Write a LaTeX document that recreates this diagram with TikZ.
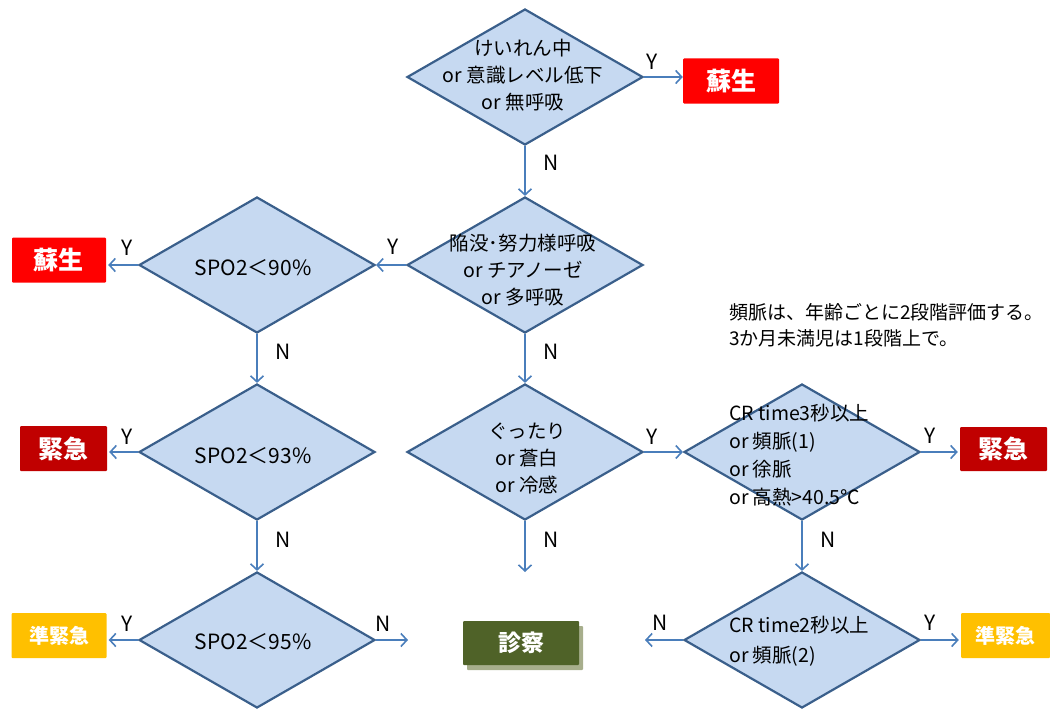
\documentclass[tikz,border=0pt]{standalone}
\usepackage{fontspec}
\newfontfamily\jp{Noto Sans CJK JP}
\usetikzlibrary{shapes.geometric,arrows.meta,shadows}
\definecolor{diafill}{HTML}{C6D9F1}
\definecolor{diabd}{HTML}{3A5F8B}
\definecolor{arrowc}{HTML}{4A7EBB}
\definecolor{redbox}{HTML}{FF0000}
\definecolor{darkred}{HTML}{C00000}
\definecolor{amber}{HTML}{FFC000}
\definecolor{olive}{HTML}{4F6228}
\definecolor{shadowc}{HTML}{A7AE8C}
\tikzset{
  dia/.style={shape=diamond, draw=diabd, fill=diafill, line width=2.2pt,
    minimum width=236pt, minimum height=136pt, inner sep=0pt},
  dtext/.style={font=\jp\fontsize{19.5}{27}\selectfont, inner sep=0pt},
  stext/.style={font=\jp\fontsize{21}{21}\selectfont, inner sep=0pt},
  ltext/.style={font=\jp\fontsize{19.5}{28}\selectfont, inner sep=0pt, align=left, anchor=west},
  arr/.style={draw=arrowc, line width=1.6pt,
    -{Straight Barb[length=6pt,width=13pt,line width=1.6pt]}},
  yn/.style={font=\jp\fontsize{21}{21}\selectfont, inner sep=0pt},
  result/.style={text=white, font=\jp\bfseries\fontsize{#1}{#1}\selectfont,
    inner sep=0pt, rounded corners=1pt},
}
\begin{document}
\begin{tikzpicture}[x=1pt,y=-1pt]
\useasboundingbox (0,0) rectangle (1050,709);

% diamonds
\node[dia] (d1) at (525,77) {};
\node[dia] (d2) at (525,265) {};
\node[dia] (d3) at (257,265) {};
\node[dia] (d4) at (257,452) {};
\node[dia] (d5) at (257,640) {};
\node[dia] (d6) at (525,452) {};
\node[dia] (d7) at (802,452) {};
\node[dia] (d8) at (802,640) {};

% diamond texts
\node[dtext, align=center] (t1) at (523,75) {けいれん中\\or 意識レベル低下\\or 無呼吸};
\node[dtext, align=center] (t2) at (523,270) {陥没･努力様呼吸\\or チアノーゼ\\or 多呼吸};
\node[stext] (t3) at (253,268) {SPO2＜90\%};
\node[stext] (t4) at (253,456) {SPO2＜93\%};
\node[stext] (t5) at (253,642) {SPO2＜95\%};
\node[dtext, align=center] (t6) at (527,458) {ぐったり\\or 蒼白\\or 冷感};
\node[ltext] (t7) at (729,455) {CR time3秒以上\\or 頻脈(1)\\or 徐脈\\or 高熱>40.5℃};
\node[ltext, font=\jp\fontsize{19.5}{30}\selectfont] (t8) at (729,641) {CR time2秒以上\\or 頻脈(2)};

% note
\node[ltext, font=\jp\fontsize{19}{26}\selectfont] (note) at (729,325) {頻脈は、年齢ごとに2段階評価する。\\3か月未満児は1段階上で。};

% result boxes
\node[result=25, fill=redbox, minimum width=96pt, minimum height=45pt] (s1) at (731,81) {蘇生};
\node[result=25, fill=redbox, minimum width=94pt, minimum height=45pt] (s2) at (59,260) {蘇生};
\node[result=25, fill=darkred, minimum width=87pt, minimum height=45pt] (k1) at (63.5,448.5) {緊急};
\node[result=25, fill=darkred, minimum width=87pt, minimum height=44pt] (k2) at (1003.5,449) {緊急};
\node[result=20, fill=amber, minimum width=95pt, minimum height=45pt] (j1) at (59,635.5) {準緊急};
\node[result=20, fill=amber, minimum width=89pt, minimum height=45pt] (j2) at (1005.5,635.5) {準緊急};
\node[result=23, fill=olive, minimum width=116pt, minimum height=44pt,
  drop shadow={shadow xshift=4pt, shadow yshift=-5pt, fill=shadowc, opacity=1}] (sk) at (521,643) {診察};

% free ends
\coordinate (e5) at (408,640);
\coordinate (e6) at (525,572);
\coordinate (e8) at (645,640);

% connectors
\draw[arr] (d1.east) -- (s1.west |- d1.east);
\draw[arr] (d1.south) -- (d2.north);
\draw[arr] (d2.west) -- (d3.east);
\draw[arr] (d3.west) -- ([xshift=2pt]s2.east |- d3.west);
\draw[arr] (d3.south) -- (d4.north);
\draw[arr] (d2.south) -- (d6.north);
\draw[arr] (d4.west) -- ([xshift=2pt]k1.east |- d4.west);
\draw[arr] (d4.south) -- (d5.north);
\draw[arr] (d6.south) -- (e6);
\draw[arr] (d6.east) -- (d7.west);
\draw[arr] (d7.east) -- ([xshift=-2pt]k2.west |- d7.east);
\draw[arr] (d7.south) -- (d8.north);
\draw[arr] (d5.west) -- ([xshift=2pt]j1.east |- d5.west);
\draw[arr] (d5.east) -- (e5);
\draw[arr] (d8.west) -- (e8);
\draw[arr] (d8.east) -- ([xshift=-2pt]j2.west |- d8.east);

% Y/N labels
\node[yn] (l1) at (652,62) {Y};
\node[yn] (l2) at (551,163) {N};
\node[yn] (l3) at (393,247) {Y};
\node[yn] (l4) at (127,248) {Y};
\node[yn] (l5) at (283,352) {N};
\node[yn] (l6) at (551,352) {N};
\node[yn] (l7) at (127,437) {Y};
\node[yn] (l8) at (283,540) {N};
\node[yn] (l9) at (551,540) {N};
\node[yn] (l10) at (652,437) {Y};
\node[yn] (l11) at (930,436) {Y};
\node[yn] (l12) at (828,540) {N};
\node[yn] (l13) at (127,624) {Y};
\node[yn] (l14) at (383,624) {N};
\node[yn] (l15) at (660,623) {N};
\node[yn] (l16) at (930,623) {Y};
\end{tikzpicture}
\end{document}
